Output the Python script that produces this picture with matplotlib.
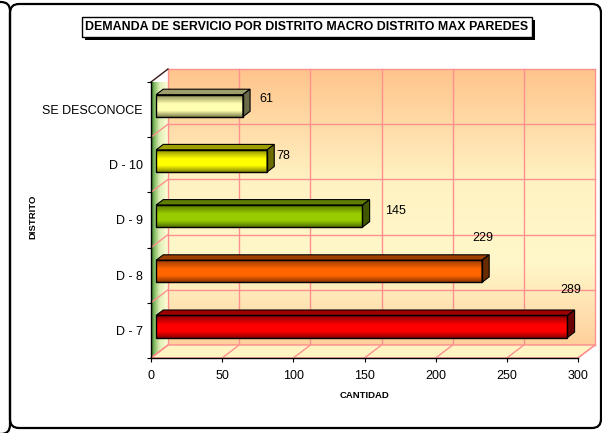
import numpy as np
import matplotlib.pyplot as plt
import matplotlib.patheffects as pe
from matplotlib.patches import Polygon, FancyBboxPatch
from matplotlib.colors import to_rgb

plt.rcParams['font.family'] = ['Liberation Sans', 'DejaVu Sans']

# data (bottom to top)
categories = ['D - 7', 'D - 8', 'D - 9', 'D - 10', 'SE DESCONOCE']
values = [289, 229, 145, 78, 61]
x_ticks = [0, 50, 100, 150, 200, 250, 300]
title = 'DEMANDA DE SERVICIO POR DISTRITO MACRO DISTRITO MAX PAREDES'

# styles
bright_colors = ['#FF0000', '#FF6600', '#99CC00', '#FFFF00', '#FFFFB0']
dark_colors = ['#7A0000', '#803000', '#4A6400', '#767600', '#707040']
label_dx = [6, 4, 27, 15, 20]          # value-label offsets (Excel 3D placement)
label_dy = [0.74, 0.68, 0.16, 0.16, 0.19]
grid_col = '#FF9090'

# 3D depth in data units (17 px right, 13 px up)
DX = 17 / 427 * 300
DY = 13 / 276 * 5
bar_h = 0.4
f_off, b_off = 0.3, 0.72   # bar front / back face depth fraction

fig = plt.figure(figsize=(6.02, 4.33), dpi=100)

# decoration layer in pixel coordinates
bg = fig.add_axes([0, 0, 1, 1])
bg.set_xlim(0, 602)
bg.set_ylim(433, 0)
bg.axis('off')
bg.add_patch(FancyBboxPatch((-60, 2), 70, 432, boxstyle='round,pad=0,rounding_size=9',
                            fc='none', ec='black', lw=1.6))
bg.add_patch(FancyBboxPatch((10, 4), 591, 424, boxstyle='round,pad=0,rounding_size=9',
                            fc='none', ec='black', lw=1.6))
bg.text(307, 27, title, ha='center', va='center', fontsize=8.9, fontweight='bold',
        bbox=dict(boxstyle='square,pad=0.3', fc='white', ec='black', lw=1,
                  path_effects=[pe.withSimplePatchShadow(offset=(2.2, -2.2),
                                                         shadow_rgbFace='black', alpha=1)]))
bg.text(364, 396, 'CANTIDAD', ha='center', va='center', fontsize=6.8, fontweight='bold')
bg.text(33, 217, 'DISTRITO', ha='center', va='center', fontsize=6.8, fontweight='bold',
        rotation=90)

ax = fig.add_axes([151 / 602, 75 / 433, 427 / 602, 276 / 433])
ax.set_facecolor('none')

y_lo, y_hi = -0.5, len(categories) - 0.5

# back wall with vertical gradient
stops = [0, 0.4, 0.7, 1.0]
cols = [to_rgb('#FFC48C'), to_rgb('#FFF2C2'), to_rgb('#FFF8CA'), to_rgb('#FFD09C')]
t = np.linspace(0, 1, 200)
grad = np.stack([np.interp(t, stops, [c[k] for c in cols]) for k in range(3)], axis=-1)
wall = ax.imshow(grad[:, None, :], extent=(DX, 300 + DX, y_lo + DY, y_hi + DY),
                 origin='upper', aspect='auto', zorder=0.5, interpolation='bilinear')
wall.set_clip_on(False)

# back wall grid
for x in x_ticks:
    ax.plot([x + DX, x + DX], [y_lo + DY, y_hi + DY], color=grid_col, lw=1,
            zorder=1, clip_on=False)
for b in np.arange(y_lo, y_hi + 0.01, 1):
    ax.plot([DX, 300 + DX], [b + DY, b + DY], color=grid_col, lw=1, zorder=1, clip_on=False)

# floor
ax.add_patch(Polygon([(0, y_lo), (300, y_lo), (300 + DX, y_lo + DY), (DX, y_lo + DY)],
                     closed=True, fc='#FFF4C2', ec=grid_col, lw=1, zorder=1, clip_on=False))
for x in x_ticks:
    ax.plot([x, x + DX], [y_lo, y_lo + DY], color=grid_col, lw=1, zorder=1.2, clip_on=False)

# left wall with horizontal green gradient
lw_poly = Polygon([(0, y_lo), (0, y_hi), (DX, y_hi + DY), (DX, y_lo + DY)], closed=True,
                  fc='none', ec='none', transform=ax.transData)
ax.add_patch(lw_poly)
lstops = [0, 0.18, 0.5, 1.0]
lcols = [to_rgb('#2E6B25'), to_rgb('#7DB85E'), to_rgb('#DDEDB4'), to_rgb('#FFFFD8')]
tx = np.linspace(0, 1, 100)
lgrad = np.stack([np.interp(tx, lstops, [c[k] for c in lcols]) for k in range(3)], axis=-1)
lwall = ax.imshow(lgrad[None, :, :], extent=(0, DX, y_lo, y_hi + DY), aspect='auto',
                  zorder=0.6, interpolation='bilinear')
lwall.set_clip_path(lw_poly)
lwall.set_clip_box(None)
for b in np.arange(y_lo, y_hi + 0.01, 1):
    ax.plot([0, DX], [b, b + DY], color=grid_col, lw=1, zorder=1.2, clip_on=False)
ax.plot([0, DX], [y_hi, y_hi + DY], color='#222222', lw=0.9, zorder=1.3, clip_on=False)

# bars
ypos = np.arange(len(categories))
fx, fy = f_off * DX, f_off * DY
bx, by = b_off * DX, b_off * DY
bars = ax.barh(ypos + fy, values, left=fx, height=bar_h, color=bright_colors,
               edgecolor='none', zorder=3)
tb = np.linspace(0, 1, 100)
prof = np.interp(tb, [0, 0.12, 0.42, 0.72, 1.0], [0.0, 0.35, 1.0, 1.0, 0.1])
for i, (rect, v) in enumerate(zip(bars, values)):
    br, dk = np.array(to_rgb(bright_colors[i])), np.array(to_rgb(dark_colors[i]))
    g = dk[None, :] + prof[:, None] * (br - dk)[None, :]
    y0 = i + fy - bar_h / 2
    y1 = i + fy + bar_h / 2
    im = ax.imshow(g[:, None, :], extent=(fx, fx + v, y0, y1), origin='upper',
                   aspect='auto', zorder=3.1, interpolation='bilinear')
    im.set_clip_path(rect)
    top_c = br * 0.62
    side_c = br * 0.42
    ax.add_patch(Polygon([(fx, y1), (fx + v, y1), (bx + v, i + by + bar_h / 2), (bx, i + by + bar_h / 2)],
                         closed=True, fc=top_c, ec='black', lw=0.8, zorder=3.2))
    ax.add_patch(Polygon([(fx + v, y0), (fx + v, y1), (bx + v, i + by + bar_h / 2), (bx + v, i + by - bar_h / 2)],
                         closed=True, fc=side_c, ec='black', lw=0.8, zorder=3.2))
    ax.text(v + label_dx[i], i + label_dy[i], str(v), ha='center', va='center',
            fontsize=9, zorder=5)
ax.barh(ypos + fy, values, left=fx, height=bar_h, fill=False, edgecolor='black',
        lw=1, zorder=3.3)

# axes
ax.set_xlim(0, 300)
ax.set_ylim(y_lo, y_hi)
for s in ['top', 'right']:
    ax.spines[s].set_visible(False)
for s in ['left', 'bottom']:
    ax.spines[s].set_color('black')
    ax.spines[s].set_linewidth(1)
    ax.spines[s].set_zorder(4)
ax.set_xticks(x_ticks)
ax.set_xticklabels([str(x) for x in x_ticks], fontsize=9)
ax.set_yticks(np.arange(y_lo, y_hi + 0.01, 1))
ax.set_yticklabels([])
ax.set_yticks(ypos, minor=True)
ax.set_yticklabels(categories, minor=True, fontsize=9)
ax.tick_params(axis='x', direction='out', length=3, width=0.8, pad=5.5)
ax.tick_params(axis='y', which='major', direction='out', length=3, width=0.8)
ax.tick_params(axis='y', which='minor', length=0, pad=6)

fig.savefig('out.png', dpi=100)
